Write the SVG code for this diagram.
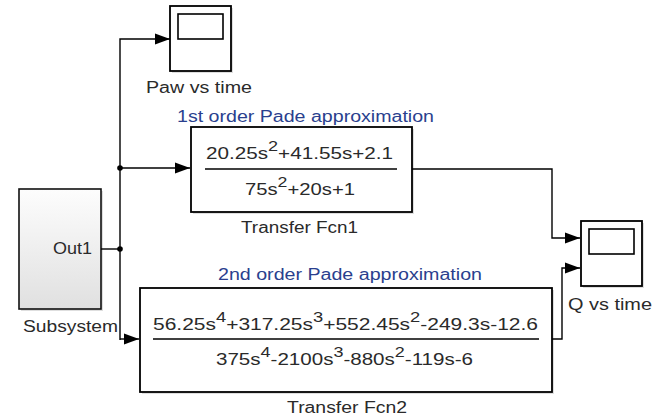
<svg xmlns="http://www.w3.org/2000/svg" width="668" height="419" viewBox="0 0 668 419">
<defs>
<linearGradient id="subg" x1="0" y1="0" x2="0" y2="1">
<stop offset="0" stop-color="#fdfdfd"/>
<stop offset="1" stop-color="#e0e0e0"/>
</linearGradient>
<marker id="arr" markerWidth="15" markerHeight="12" refX="15" refY="6" orient="auto" markerUnits="userSpaceOnUse">
<path d="M0,0.5 L15,6 L0,11.5 Z" fill="#000"/>
</marker>
</defs>
<style>
text{font-family:"Liberation Sans",Arial,sans-serif;font-size:16px;fill:#2a2a2a}
.ann{fill:#2a3f8e}
.blk{fill:#fff;stroke:#000;stroke-width:1.8}
.shd{fill:#c8c8c8;stroke:none;opacity:0.6}
.ln{fill:none;stroke:#000;stroke-width:1.4}
.sup{font-size:14px}
</style>
<rect width="668" height="419" fill="#fff"/>

<g id="subsystem">
<rect class="shd" x="21" y="191" width="82" height="120"/>
<rect x="19" y="189" width="82" height="120" fill="url(#subg)" stroke="#111" stroke-width="1.6"/>
<text x="92" y="254" text-anchor="end" textLength="39" lengthAdjust="spacingAndGlyphs">Out1</text>
<text x="23" y="332" textLength="95" lengthAdjust="spacingAndGlyphs">Subsystem</text>
</g>

<g id="paw-scope">
<rect class="shd" x="172" y="8" width="61" height="65"/>
<rect class="blk" x="170" y="6" width="61" height="65"/>
<rect x="178" y="14" width="45" height="25" fill="#fff" stroke="#000" stroke-width="1.6"/>
<text x="146" y="93" textLength="106" lengthAdjust="spacingAndGlyphs">Paw vs time</text>
</g>

<g id="tf1">
<text class="ann" x="177" y="122" textLength="257" lengthAdjust="spacingAndGlyphs">1st order Pade approximation</text>
<rect class="shd" x="193" y="129" width="221" height="85"/>
<rect class="blk" x="191" y="127" width="221" height="85"/>
<text x="206" y="159" textLength="187" lengthAdjust="spacingAndGlyphs">20.25s<tspan class="sup" dy="-8">2</tspan><tspan dy="8">+41.55s+2.1</tspan></text>
<line x1="205" y1="169" x2="397" y2="169" stroke="#000" stroke-width="1.5"/>
<text x="245" y="195" textLength="110" lengthAdjust="spacingAndGlyphs">75s<tspan class="sup" dy="-8">2</tspan><tspan dy="8">+20s+1</tspan></text>
<text x="241" y="233" textLength="117" lengthAdjust="spacingAndGlyphs">Transfer Fcn1</text>
</g>

<g id="tf2">
<text class="ann" x="218" y="280" textLength="264" lengthAdjust="spacingAndGlyphs">2nd order Pade approximation</text>
<rect class="shd" x="142" y="290" width="412" height="104"/>
<rect class="blk" x="140" y="288" width="412" height="104"/>
<text x="153" y="330" textLength="385" lengthAdjust="spacingAndGlyphs">56.25s<tspan class="sup" dy="-8">4</tspan><tspan dy="8">+317.25s</tspan><tspan class="sup" dy="-8">3</tspan><tspan dy="8">+552.45s</tspan><tspan class="sup" dy="-8">2</tspan><tspan dy="8">-249.3s-12.6</tspan></text>
<line x1="153" y1="339" x2="539" y2="339" stroke="#000" stroke-width="1.5"/>
<text x="216" y="365" textLength="257" lengthAdjust="spacingAndGlyphs">375s<tspan class="sup" dy="-8">4</tspan><tspan dy="8">-2100s</tspan><tspan class="sup" dy="-8">3</tspan><tspan dy="8">-880s</tspan><tspan class="sup" dy="-8">2</tspan><tspan dy="8">-119s-6</tspan></text>
<text x="287" y="413" textLength="120" lengthAdjust="spacingAndGlyphs">Transfer Fcn2</text>
</g>

<g id="q-scope">
<rect class="shd" x="583" y="223" width="61" height="65"/>
<rect class="blk" x="581" y="221" width="61" height="65"/>
<rect x="589" y="229" width="45" height="25" fill="#fff" stroke="#000" stroke-width="1.6"/>
<text x="568" y="310" textLength="84" lengthAdjust="spacingAndGlyphs">Q vs time</text>
</g>

<g id="connectors">
<polyline class="ln" points="101,249 120,249"/>
<polyline class="ln" points="120,340 120,39 170,39" marker-end="url(#arr)"/>
<polyline class="ln" points="120,168 190,168" marker-end="url(#arr)"/>
<polyline class="ln" points="120,339 139,339" marker-end="url(#arr)"/>
<polyline class="ln" points="412,169 552,169 552,238 580,238" marker-end="url(#arr)"/>
<polyline class="ln" points="552,339 562,339 562,268 580,268" marker-end="url(#arr)"/>
<circle cx="120" cy="168" r="2.8" fill="#000"/>
<circle cx="120" cy="249" r="2.8" fill="#000"/>
</g>
</svg>
